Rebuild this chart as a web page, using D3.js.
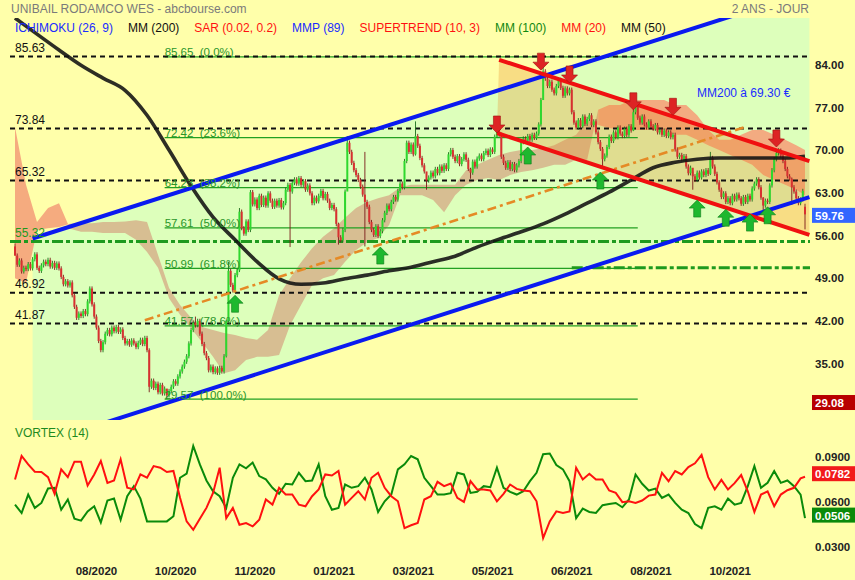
<!DOCTYPE html>
<html><head><meta charset="utf-8">
<script src="https://cdn.jsdelivr.net/npm/d3@7"></script>
<style>
body{margin:0;background:#FFFFAA;}
svg{display:block;font-family:Arial,"Liberation Sans",sans-serif;}
</style>
</head><body>
<svg id="c" width="855" height="580"></svg>
<script>
// ---------------- DATA ----------------
const title = "UNIBAIL RODAMCO WES - abcbourse.com";
const periodLabel = "2 ANS - JOUR";
const legendLabels = ["ICHIMOKU (26, 9)","MM (200)","SAR (0.02, 0.2)","MMP (89)","SUPERTREND (10, 3)","MM (100)","MM (20)","MM (50)"];
const legendColors = ["#1a2cff","#111111","#ff1010","#1a2cff","#ff1010","#118811","#ff1010","#111111"];

const firstOpen = 54.5;
const closes = [
 53.0,51.5,52.2, 50.4,51.0, 50.8,51.6,50.9,52.4,53.2, 51.0,50.5,51.4,
 52.0,51.6,52.3,51.2,51.8,51.0,51.7,50.9, 49.5,48.3,48.8,48.1,48.6, 46.5,44.6,
 42.8,43.5,43.1,43.9,43.4, 45.5,47.6, 45.0,43.0, 41.2,39.0,37.5,38.8,
 40.2,40.8,40.1,41.2,40.6,41.3,40.5,40.9, 39.5,38.6,
 39.0,38.4,39.1,38.6,38.0,38.7,39.2,38.5, 39.5,37.5, 31.5,
 32.5,31.3,32.0,30.6,31.8,30.4,31.2,30.1, 30.8,31.5,32.4,32.0,33.2,
 34.0,34.8,35.6,36.5, 38.6,40.8, 42.0,41.6,42.3, 40.2,38.5,37.0,36.2,
 34.2,34.8,33.9,34.5,33.8,34.6,34.0, 36.5,42.3, 50.5,48.2,47.3,49.8,50.6, 60.2,
 57.5,56.6,58.6,57.2, 63.4,61.4,62.2,60.8,62.8,61.3,62.5,
 61.2,63.2,62.0,61.0,62.0,61.2,62.1,60.9,61.6, 63.8,64.6,63.5,64.9,
 65.5,64.8,65.7,64.6,65.2,63.8,64.5,63.2, 61.6,62.5,61.9,62.8,63.6,62.4,63.1,62.0,
 60.8,61.3,60.6,58.2,56.0, 55.5,57.2, 63.5,71.5,70.0, 68.2,67.0,66.2,65.4,64.3,
 63.0,61.8,61.0, 58.5,57.2,56.4,57.8,56.2,57.0, 58.8,60.0,61.2,60.6,61.8,62.6,62.2,
 63.6,64.8,64.2, 68.5,71.5, 70.0,71.2,69.6,72.6, 71.0,69.0,67.8,66.8,65.3,65.8,
 66.6,66.0,67.2,66.5,67.6,66.9,67.8,67.2, 69.6,70.3,69.2, 68.5,69.3,68.0,68.8,69.6,68.7,
 67.2,66.6,68.4,67.6,68.9,69.4, 68.8,69.8,70.2,69.5,70.4,70.0, 72.5,73.8,72.8,
 69.2,68.2,67.4,68.3,67.2,68.0,67.0,67.8,68.5, 71.6,72.2,71.8,72.6,72.0,72.8,72.3,73.0,
 74.5,78.5,83.2,82.0, 80.8,81.5,80.2,79.6,80.8,81.8,80.5,79.2,80.4,79.6,80.2,
 76.5,74.8,74.0, 75.2,74.2,75.8,74.6,75.4,76.0,74.4,75.0, 73.2,71.6,70.5,68.8,69.4,70.8,
 72.5,71.8,73.2,72.4,74.0,73.0,72.6,73.8,72.8,74.2,73.5, 76.5,77.4,
 75.6,74.8,75.8,74.5,74.0,75.0,74.2, 73.8,74.4,73.2,73.6,72.8,73.5,72.6,73.2,72.4,
 72.8,70.4,69.2,69.5, 68.8,69.3,67.6,66.5,67.4,66.0,65.4,66.6,65.8,
 66.8,66.2,67.0,66.4,69.0,67.6, 66.4,65.0,63.8,62.6,63.2,61.8,62.4,
 61.6,62.8,62.2,63.0,62.4,61.5,62.6,61.8,62.8,62.2, 64.0,64.8,65.5,
 64.2,62.5,61.2,62.0,61.8, 64.5,67.0,68.8, 69.8,70.2,69.4,
 68.5,67.2,66.0,65.6,64.2,63.5, 62.4,61.6,62.2, 63.6, 59.76
];
// [index, open]
const openGaps = [[359, 61.0]];
// [index, high, low]
const longWicks = [
 [0,55.0,53.0],[61,37.8,30.6],[69,31.0,29.57],[82,43.0,41.2],[96,42.5,36.3],[97,52.0,42.0],
 [102,60.8,50.3],[125,64.9,54.4],[147,58.4,54.8],[151,72.6,70.0],[159,70.0,54.5],[182,75.0,69.4],
 [187,65.8,63.8],[207,67.4,65.6],[219,74.6,72.4],[240,85.65,82.0],[267,70.8,67.5],[281,77.8,73.4],
 [308,66.8,63.8],[316,70.0,66.2],[340,62.6,60.3],[347,70.6,69.4],[353,65.8,61.3],[359,61.5,57.3]
];

// moving average 200 (every 10 sessions, last = last session)
const mm200 = [91.95,89.3,86.7,84.2,82.1,80.1,76.0,70.3,64.4,59.3,55.6,52.0,49.2,48.3,48.5,49.2,49.8,50.5,
 51.1,52.0,52.9,54.4,55.7,56.9,58.2,59.8,61.6,63.4,65.4,67.4,68.3,68.8,69.0,69.0,69.0,69.0,69.3];
const mm200Label = "MM200 à 69.30 €";

// Ichimoku cloud spans (every 5 sessions)
const spanA = [49.3,48.5,57.2,57.5,57.7,58.2,58.3,58.3,58.5,58.5,58.6,58.8,58.5,53.1,47.7,44.9,42.8,41.3,40.8,40.3,
 40.0,39.5,39.2,40.8,46.5,49.3,51.9,54.2,56.1,57.5,59.2,60.8,61.8,62.4,62.9,64.2,64.6,64.6,64.6,64.6,
 64.6,67.0,67.9,68.7,69.5,70.0,70.3,70.3,70.6,71.1,72.0,72.8,75.2,74.4,73.9,73.6,73.6,73.6,73.6,73.6,
 72.8,72.8,72.0,71.1,70.3,69.5,68.7,67.9,66.2,65.4,64.6,63.8,62.9];
const spanB = [74.1,64.6,58.5,60.8,61.6,57.4,56.9,56.9,56.7,56.7,56.7,55.6,53.6,51.0,46.0,43.3,41.1,38.8,36.4,33.7,
 34.2,35.9,36.4,36.4,36.7,41.6,44.9,48.2,49.3,49.8,52.0,53.9,55.2,55.9,58.0,62.9,62.9,62.9,62.1,60.1,
 62.9,64.6,65.4,65.7,65.4,66.2,66.7,67.0,67.4,67.9,67.9,68.7,68.7,76.9,77.7,77.7,78.5,78.5,78.5,78.5,
 77.7,77.7,76.0,73.6,72.0,72.0,72.8,73.6,73.6,72.8,72.0,71.1,70.3];

// horizontal levels
const levels = [85.63,73.84,65.32,46.92,41.87];
const keyLevel = 55.32;
const keyLevel2 = 50.99;
const fibValues = [85.65,72.42,64.23,57.61,50.99,41.57,29.57];
const fibPcts = ["0.0%","23.6%","38.2%","50.0%","61.8%","78.6%","100.0%"];
const fibRange = [68, 283];

// trend lines: [index1, price1, index2, price2]
const blueUpper = [8,55.8,361,96.3];
const blueLower = [8,21.8,361,62.6];
const redUpper = [220,85.1,361,68.5];
const redLower = [219,73.1,361,56.4];
const orangeLine = [59,42.4,332,74.1];

// supertrend signals [index, price of tip]
const sellSignals = [[219,73.1],[239,83.4],[252,81.3],[281,76.9],[299,76.0],[346,70.8]];
const buySignals = [[100,46.5],[166,54.4],[233,70.8],[266,66.7],[310,62.1],[323,60.6],[334,59.8],[342,61.0]];

const priceTicks = [84,77,70,63,56,49,42,35];
const lastPrice = 59.76;
const lowMark = 29.08;

// dates
const dateTickIdx = [37,73,109,145,181,217,253,289,325];
const dateTickLabels = ["08/2020","10/2020","11/2020","01/2021","03/2021","05/2021","06/2021","08/2021","10/2021"];

// Vortex (units of 1e-4), every 3 sessions, last = last session
const viPlus = [596,540,663,574,607,703,708,562,630,502,489,551,585,477,623,636,495,652,719,636,
 484,484,484,484,518,775,802,987,864,757,685,652,574,775,864,838,876,786,764,708,
 668,735,730,808,752,757,864,652,562,574,730,708,719,775,697,547,618,663,831,864,
 920,898,775,
 719,663,663,672,808,797,674,681,719,712,842,708,681,663,685,752,808,932,936,860,
 831,752,506,569,547,540,592,600,607,578,630,797,735,690,703,641,663,607,562,540,
 466,439,574,585,562,636,596,607,719,853,708,741,820,741,757,719,663, 506];
const viMinus = [764,920,864,815,813,779,668,831,779,882,882,724,797,887,741,757,898,708,697,797,
 775,853,842,813,820,641,484,428,502,574,674,842,506,574,462,473,451,495,630,596,
 708,663,663,596,585,652,697,797,790,820,596,641,685,630,775,808,708,652,618,439,
 458,473,630,
 652,748,719,737,641,614,752,697,697,690,618,668,730,701,690,685,618,372,484,551,
 540,551,842,764,802,764,764,690,674,612,618,607,623,656,663,808,752,820,797,846,
 871,927,779,697,761,697,739,793,685,547,663,685,585,663,692,708,771, 782];
const vortexTicks = [0.09,0.06,0.03];
const vortexLabel = "VORTEX (14)";

// ---------------- DRAW ----------------
const svg = d3.select("#c");
const N = closes.length;
const PL = 0, PR = 810, PT = 18, PB = 420;
const x = d3.scaleLinear().domain([0, N-1]).range([15, 805]);
const y = d3.scaleLinear().domain([26.05, 92.44]).range([420, 15]);
const yv = d3.scaleLinear().domain([0.03, 0.09]).range([549, 459]);

const defs = svg.append("defs");
defs.append("clipPath").attr("id","plot").append("rect")
  .attr("x",PL).attr("y",PT).attr("width",PR-PL).attr("height",PB-PT);

svg.append("rect").attr("width",855).attr("height",580).attr("fill","#FFFFAA");

const P = svg.append("g").attr("clip-path","url(#plot)");
const lineAt = (d, i) => d[1] + (d[3]-d[1])*(i-d[0])/(d[2]-d[0]);

// green zone between blue lines
{
  const i0 = blueUpper[0], i1 = blueUpper[2];
  const pts = [[i0, lineAt(blueUpper,i0)],[i1, lineAt(blueUpper,i1)],[i1, lineAt(blueLower,i1)],[i0, lineAt(blueLower,i0)]];
  P.append("path").attr("d", "M"+pts.map(p=>[x(p[0]),y(p[1])].join(",")).join("L")+"Z")
   .attr("fill","#DDFFBB");
}

// Ichimoku cloud
{
  const idx = spanA.map((_,k)=>Math.min(k*5, N-1));
  const runs = [];
  for (let k=0;k<spanA.length-1;k++){
    const bull = (spanA[k]+spanA[k+1]) >= (spanB[k]+spanB[k+1]);
    if (runs.length && runs[runs.length-1].bull===bull) runs[runs.length-1].end = k+1;
    else runs.push({bull, start:k, end:k+1});
  }
  runs.forEach(r=>{
    const top=[], bot=[];
    for(let k=r.start;k<=r.end;k++){ top.push([x(idx[k]), y(spanA[k])]); bot.push([x(idx[k]), y(spanB[k])]); }
    const pts = top.concat(bot.reverse());
    P.append("path").attr("d","M"+pts.map(p=>p.join(",")).join("L")+"Z")
     .attr("fill", r.bull ? "#D6B88E" : "#F4A47C").attr("opacity",0.92);
  });
}

// red channel tint
{
  const i0 = redLower[0], i1 = redUpper[2];
  const pts = [[redUpper[0], redUpper[1]],[i1, lineAt(redUpper,i1)],[i1, lineAt(redLower,i1)],[i0, redLower[1]]];
  P.append("path").attr("d","M"+pts.map(p=>[x(p[0]),y(p[1])].join(",")).join("L")+"Z")
   .attr("fill","#E89030").attr("opacity",0.3);
}

// fibonacci lines
fibValues.forEach((v,k)=>{
  P.append("line").attr("x1",x(fibRange[0])).attr("x2",x(fibRange[1]))
   .attr("y1",y(v)+0.5).attr("y2",y(v)+0.5).attr("stroke","#22A022").attr("stroke-width",1.2);
  svg.append("text").attr("x",x(fibRange[0])).attr("y",y(v)).attr("fill","#2a962a")
   .attr("font-size",11.5).style("white-space","pre").text(v.toFixed(2)+"  ("+fibPcts[k]+")");
});

// dashed levels
levels.forEach(v=>{
  P.append("line").attr("x1",10).attr("x2",808).attr("y1",y(v)).attr("y2",y(v))
   .attr("stroke","#111").attr("stroke-width",2).attr("stroke-dasharray","5,4");
  svg.append("text").attr("x",15).attr("y",y(v)-4.5).attr("font-size",12).attr("fill","#111").text(v.toFixed(2));
});
P.append("line").attr("x1",10).attr("x2",810).attr("y1",y(keyLevel)).attr("y2",y(keyLevel))
  .attr("stroke","#1E9A1E").attr("stroke-width",3).attr("stroke-dasharray","11,3,4,3");
svg.append("text").attr("x",15).attr("y",y(keyLevel)-4.5).attr("font-size",12).attr("fill","#1E9A1E").text(keyLevel.toFixed(2));
P.append("line").attr("x1",x(253)).attr("x2",810).attr("y1",y(keyLevel2)).attr("y2",y(keyLevel2))
  .attr("stroke","#1E9A1E").attr("stroke-width",3).attr("stroke-dasharray","11,3,4,3");

// candles
const candles = closes.map((c,i)=>{
  let o = i===0 ? firstOpen : closes[i-1];
  const g = openGaps.find(d=>d[0]===i); if (g) o = g[1];
  let h = Math.max(o,c)+0.35, l = Math.min(o,c)-0.35;
  const w = longWicks.find(d=>d[0]===i); if (w){ h=w[1]; l=w[2]; }
  return {i,o,c,h,l,up:c>=o};
});
const cg = P.append("g");
cg.selectAll("line").data(candles).join("line")
  .attr("x1",d=>x(d.i)).attr("x2",d=>x(d.i)).attr("y1",d=>y(d.h)).attr("y2",d=>y(d.l))
  .attr("stroke",d=>d.up?"#1d6e1d":"#7a1a1a").attr("stroke-width",0.9);
cg.selectAll("rect").data(candles).join("rect")
  .attr("x",d=>x(d.i)-1).attr("width",2)
  .attr("y",d=>y(Math.max(d.o,d.c))).attr("height",d=>Math.max(1,Math.abs(y(d.o)-y(d.c))))
  .attr("fill",d=>d.up?"#2ED82E":"#D83030");

// MM200
P.append("path").datum(mm200)
  .attr("d", d3.line().x((d,k)=>x(Math.min(k*10,N-1))).y(d=>y(d)).curve(d3.curveMonotoneX))
  .attr("fill","none").attr("stroke","#111").attr("stroke-width",3.6).attr("opacity",0.88);

// orange trend line
P.append("line").attr("x1",x(orangeLine[0])).attr("y1",y(orangeLine[1]))
  .attr("x2",x(orangeLine[2])).attr("y2",y(orangeLine[3]))
  .attr("stroke","#E58A25").attr("stroke-width",2.6).attr("stroke-dasharray","9,4,3,4");

// blue channel
[blueUpper, blueLower].forEach(d=>{
  P.append("line").attr("x1",x(d[0])).attr("y1",y(d[1])).attr("x2",x(d[2])).attr("y2",y(d[3]))
   .attr("stroke","#0A1AF0").attr("stroke-width",4);
});
// red channel
[redUpper, redLower].forEach(d=>{
  P.append("line").attr("x1",x(d[0])).attr("y1",y(d[1])).attr("x2",x(d[2])).attr("y2",y(d[3]))
   .attr("stroke","#F01010").attr("stroke-width",4);
});

// signals
const downArrow = "M0,0 L-8,-8 L-3.5,-8 L-3.5,-17 L3.5,-17 L3.5,-8 L8,-8 Z";
const upArrow = "M0,0 L-8,8 L-3.5,8 L-3.5,17 L3.5,17 L3.5,8 L8,8 Z";
svg.append("g").selectAll("path").data(sellSignals).join("path")
  .attr("d",downArrow).attr("transform",d=>`translate(${x(d[0])},${y(d[1])})`)
  .attr("fill","#DD2424").attr("stroke","#A01010").attr("stroke-width",0.6);
svg.append("g").selectAll("path").data(buySignals).join("path")
  .attr("d",upArrow).attr("transform",d=>`translate(${x(d[0])},${y(d[1])})`)
  .attr("fill","#1EB82E").attr("stroke","#0E7A1A").attr("stroke-width",0.6);

// MM200 label
svg.append("text").attr("x",697).attr("y",97).attr("font-size",12).attr("fill","#1a2cff").text(mm200Label);

// title & legend
svg.append("text").attr("x",11).attr("y",13).attr("font-size",12).attr("fill","#7a7a7a").text(title);
svg.append("text").attr("x",809).attr("y",13).attr("font-size",12).attr("fill","#7a7a7a").attr("text-anchor","end").text(periodLabel);
{
  let lx = 15;
  legendLabels.forEach((t,k)=>{
    const tx = svg.append("text").attr("x",lx).attr("y",32).attr("font-size",12).attr("fill",legendColors[k]).text(t);
    lx += tx.node().getComputedTextLength() + 15;
  });
}

// price axis
priceTicks.forEach(v=>{
  svg.append("text").attr("x",815).attr("y",y(v)+2.5).attr("font-size",11.5).attr("font-weight","bold")
   .attr("fill","#222").text(v.toFixed(2));
});
function boxLabel(yc, text, color){
  svg.append("rect").attr("x",812).attr("y",yc-7.5).attr("width",43).attr("height",15).attr("fill",color);
  svg.append("text").attr("x",815).attr("y",yc+4.5).attr("font-size",11.5).attr("font-weight","bold")
   .attr("fill","#fff").text(text);
}
boxLabel(y(lastPrice)+1, lastPrice.toFixed(2), "#3366FF");
boxLabel(y(lowMark)+1, lowMark.toFixed(2), "#B80000");

// Vortex panel
svg.append("text").attr("x",15).attr("y",437).attr("font-size",12).attr("fill","#1E8A1E").text(vortexLabel);
const vIdx = k => Math.min(k*3, N-1);
const vline = d3.line().x((d,k)=>x(vIdx(k))).y(d=>yv(d/10000));
svg.append("path").datum(viPlus).attr("d",vline).attr("fill","none").attr("stroke","#0A8A0A").attr("stroke-width",2);
svg.append("path").datum(viMinus).attr("d",vline).attr("fill","none").attr("stroke","#FF1010").attr("stroke-width",2);
vortexTicks.forEach(v=>{
  svg.append("text").attr("x",815).attr("y",yv(v)+2).attr("font-size",11.5).attr("font-weight","bold")
   .attr("fill","#222").text(v.toFixed(4));
});
function vBox(v, color){
  const yc = yv(v)-3;
  svg.append("rect").attr("x",812).attr("y",yc-7.5).attr("width",43).attr("height",15).attr("fill",color);
  svg.append("text").attr("x",815).attr("y",yc+4.5).attr("font-size",11.5).attr("font-weight","bold")
   .attr("fill","#fff").text(v.toFixed(4));
}
vBox(viMinus[viMinus.length-1]/10000, "#F21A1A");
vBox(viPlus[viPlus.length-1]/10000, "#0A8A0A");

// date axis
dateTickIdx.forEach((i,k)=>{
  svg.append("text").attr("x",x(i)).attr("y",575).attr("font-size",11.5).attr("font-weight","bold")
   .attr("text-anchor","middle").attr("fill","#222").text(dateTickLabels[k]);
});
</script>
</body></html>
